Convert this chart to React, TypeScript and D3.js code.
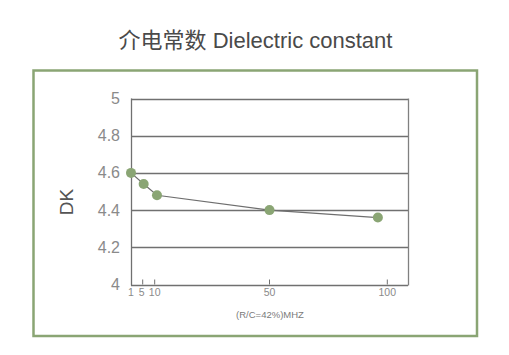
import React from "react";
import * as d3 from "d3";

// Frequency (MHz) and dielectric constant readings
const freqs = [1, 5.4, 10.8, 50, 96];
const dkValues = [4.6, 4.54, 4.48, 4.4, 4.36];

const xTicks = [1, 5, 10, 50, 100];
const yTicks = [4, 4.2, 4.4, 4.6, 4.8, 5];

const titleText = "介电常数 Dielectric constant";
const yLabel = "DK";
const xLabel = "(R/C=42%)MHZ";

const W = 509;
const H = 355;

const plot = { left: 131, right: 408, top: 98.5, bottom: 284.5 };

export default function App() {
  // Piecewise frequency axis: low range stretched like the printed chart
  const x = d3
    .scaleLinear()
    .domain([1, 5, 10, 50, 100])
    .range([131, 142.7, 154.7, 269.5, 387.3]);
  const y = d3.scaleLinear().domain([4, 5]).range([plot.bottom, plot.top]);

  const line = d3
    .line<number>()
    .x((_, i) => x(freqs[i]))
    .y((d) => y(d));

  const font = "'Liberation Sans', Arial, 'Noto Sans CJK SC', sans-serif";
  const green = "#8aa574";

  return (
    <svg
      width={W}
      height={H}
      style={{ position: "absolute", left: 0, top: 0, background: "#fff" }}
      fontFamily={font}
    >
      <text
        x={255.5}
        y={47.5}
        textAnchor="middle"
        fontSize={22}
        fill="#4a4a4a"
        fontFamily="'Liberation Sans', 'Noto Sans CJK SC', sans-serif"
      >
        {titleText}
      </text>

      <rect x={33.5} y={70.5} width={443.5} height={265.5} fill="none" stroke={green} strokeWidth={2.5} />

      {/* horizontal grid */}
      {yTicks.map((t) => (
        <line
          key={t}
          x1={plot.left}
          x2={plot.right}
          y1={Math.round(y(t)) + 0.5}
          y2={Math.round(y(t)) + 0.5}
          stroke="#707070"
          strokeWidth={1.3}
        />
      ))}
      <line x1={plot.left + 0.5} x2={plot.left + 0.5} y1={plot.top} y2={plot.bottom + 1} stroke="#707070" strokeWidth={1.3} />
      <line x1={plot.right + 0.5} x2={plot.right + 0.5} y1={plot.top} y2={plot.bottom + 1} stroke="#808080" strokeWidth={1.3} />

      {yTicks.map((t) => (
        <text key={t} x={120} y={y(t) + 5.5} textAnchor="end" fontSize={16} fill="#8a8a8a">
          {d3.format("~g")(t)}
        </text>
      ))}

      {xTicks.map((t) => (
        <g key={t}>
          {t !== 1 && (
            <line x1={x(t)} x2={x(t)} y1={plot.bottom} y2={plot.bottom - 5} stroke="#707070" strokeWidth={1} />
          )}
          <text x={x(t) + (t === 5 ? -1 : 0)} y={296} textAnchor="middle" fontSize={10.5} fill="#8a8a8a">
            {t}
          </text>
        </g>
      ))}

      <text x={270} y={318} textAnchor="middle" fontSize={9.5} fill="#7a7a7a">
        {xLabel}
      </text>

      <text
        transform={`translate(73,202) rotate(-90)`}
        textAnchor="middle"
        fontSize={19}
        fill="#555"
      >
        {yLabel}
      </text>

      <path d={line(dkValues) ?? ""} fill="none" stroke="#6e6e6e" strokeWidth={1.2} />
      {dkValues.map((v, i) => (
        <circle key={i} cx={x(freqs[i])} cy={y(v)} r={5} fill={green} />
      ))}
    </svg>
  );
}
